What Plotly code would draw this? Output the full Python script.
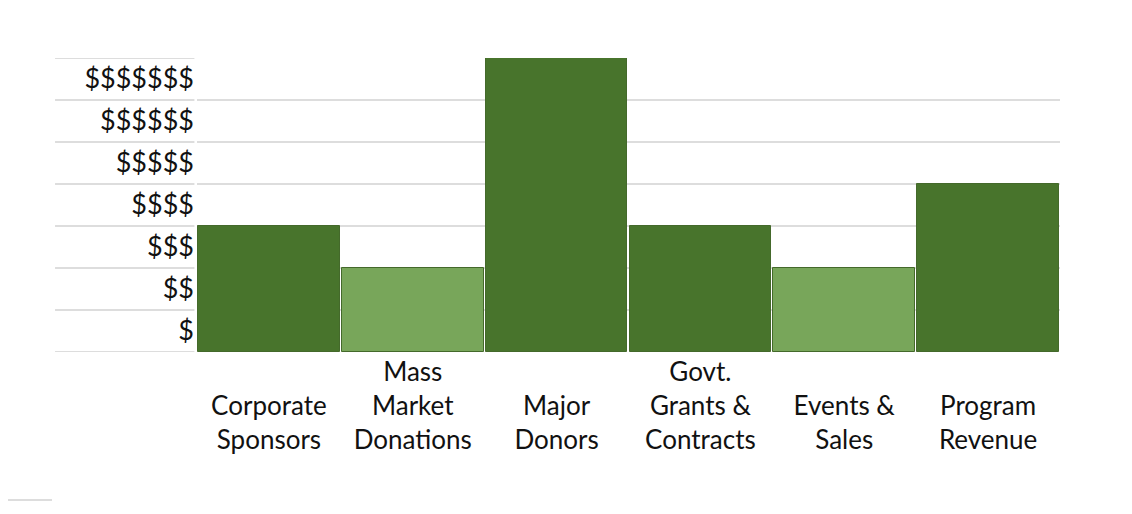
import plotly.graph_objects as go

categories = ["Corporate<br>Sponsors", "Mass<br>Market<br>Donations", "Major<br>Donors",
              "Govt.<br>Grants &<br>Contracts", "Events &<br>Sales", "Program<br>Revenue"]
values = [3, 2, 7, 3, 2, 4]
bar_colors = ["#48742C", "#78A65A", "#48742C", "#48742C", "#78A65A", "#48742C"]
tick_labels = ["$", "$$", "$$$", "$$$$", "$$$$$", "$$$$$$", "$$$$$$$"]

# bottom-align multi-line category labels (max 3 lines)
max_lines = max(c.count("<br>") + 1 for c in categories)
labels = [" <br>" * (max_lines - (c.count("<br>") + 1)) + c for c in categories]

fig = go.Figure(go.Bar(
    x=labels, y=values,
    marker=dict(color=bar_colors, line=dict(color="#44692B", width=1)),
    width=0.985,
))

grid = "#DDDDDD"
fig.update_layout(
    width=1132, height=514,
    margin=dict(l=189, r=80, t=50, b=170),
    paper_bgcolor="white", plot_bgcolor="white",
    font=dict(family="Lato", size=26, color="#111111"),
    showlegend=False,
    bargap=0,
)
fig.update_xaxes(showgrid=False, zeroline=False, showline=False, ticks="",
                 tickfont=dict(size=26), ticklabelstandoff=2)
fig.update_yaxes(range=[0, 7], tickvals=[i + 0.5 for i in range(len(tick_labels))],
                 ticktext=tick_labels, showgrid=False, zeroline=False, ticks="",
                 tickfont=dict(size=27), ticklabelstandoff=2,
                 minor=dict(tick0=0, dtick=1, showgrid=True, gridcolor=grid, gridwidth=2, ticks=""))

# extend gridlines into the label column
for i in range(len(tick_labels) + 1):
    fig.add_shape(type="line", xref="paper", yref="y", x0=-0.1645, x1=-0.003, y0=i, y1=i,
                  line=dict(color=grid, width=2), layer="below")
# small rule at bottom-left
fig.add_shape(type="line", xref="paper", yref="paper", x0=-0.24, x1=-0.168, y0=-0.503, y1=-0.503,
              line=dict(color=grid, width=2))

fig.write_html("out.html")
